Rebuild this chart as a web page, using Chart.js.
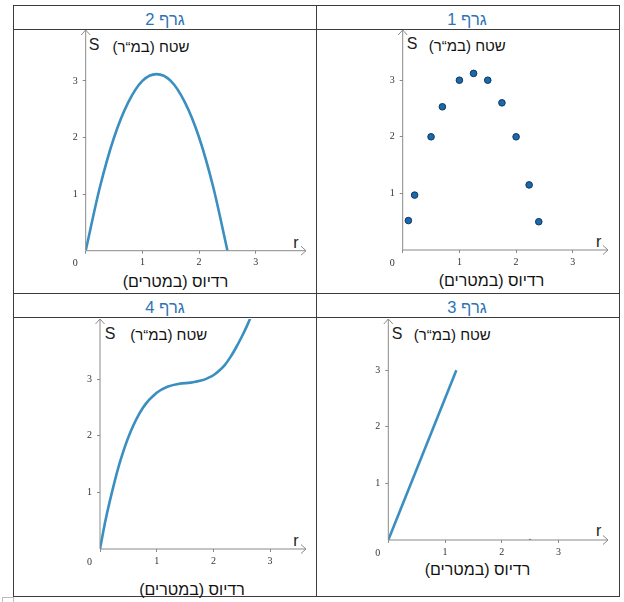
<!DOCTYPE html>
<html><head><meta charset="utf-8">
<script src="https://cdn.jsdelivr.net/npm/chart.js@4.4.0/dist/chart.umd.min.js"></script>
<style>
html,body{margin:0;padding:0;background:#fff;}
body{width:624px;height:602px;position:relative;overflow:hidden;font-family:"Liberation Sans",Arial,sans-serif;}
.ln{position:absolute;background:#3c3c3c;}
.t{position:absolute;white-space:nowrap;line-height:1;transform:translate(-50%,-50%);color:#111;}
.ttl{color:#2e74b5;font-size:16.5px;}
.s{font-size:16px;color:#222;}
.heb{font-size:15px;}
.xt{font-size:16px;}
.hnd{position:absolute;left:2px;top:597px;width:10px;height:8px;border:1px solid #bbb;}
canvas{position:absolute;}
</style></head><body>
<div id="root"></div>
<div class="hnd"></div>
<script>
// ---- data ----
const xTicks = [0, 1, 2, 3];
const yTicks = [1, 2, 3];
const titles = ["גרף 1", "גרף 2", "גרף 3", "גרף 4"];
const yLabel = "שטח (במ“ר)";
const xLabel = "רדיוס (במטרים)";

// graph 1: scattered points
const g1R = [0.1, 0.21, 0.5, 0.7, 1.0, 1.25, 1.5, 1.75, 2.0, 2.23, 2.4];
const g1S = [0.52, 0.97, 2.0, 2.53, 3.0, 3.12, 3.0, 2.6, 2.0, 1.15, 0.5];
// graph 2: parabola-like curve
const g2R = [0, 0.25, 0.5, 0.75, 1.0, 1.25, 1.5, 1.75, 2.0, 2.25, 2.5];
const g2S = [0, 1.12, 2.0, 2.62, 3.0, 3.12, 3.0, 2.62, 2.0, 1.12, 0];
// graph 3: straight segment plus a lone point
const g3R = [0, 1.2];
const g3S = [0, 3.0];
const g3DotR = [2.5];
const g3DotS = [0];
// graph 4: cubic-like curve
const g4R = [0, 0.1, 0.22, 0.35, 0.53, 0.76, 1.0, 1.2, 1.4, 1.6, 1.8, 1.9, 2.0, 2.1, 2.2, 2.3, 2.4, 2.5, 2.6, 2.7];
const g4S = [0, 0.52, 1.04, 1.53, 2.05, 2.5, 2.76, 2.87, 2.92, 2.94, 2.98, 3.02, 3.07, 3.15, 3.25, 3.39, 3.56, 3.75, 3.96, 4.2];

// ---- layout ----
const root = document.getElementById('root');
function line(x, y, w, h) {
  const d = document.createElement('div'); d.className = 'ln';
  d.style.left = x + 'px'; d.style.top = y + 'px'; d.style.width = w + 'px'; d.style.height = h + 'px';
  root.appendChild(d);
}
function text(str, cls, x, y, rtl) {
  const d = document.createElement('div'); d.className = 't ' + cls;
  d.textContent = str; d.style.left = x + 'px'; d.style.top = y + 'px';
  if (rtl) d.dir = 'rtl';
  root.appendChild(d);
}
// table grid
[5, 29, 293, 317, 595.5].forEach(y => line(13, y, 606.5, 1.3));
[13, 315.5, 618.5].forEach(x => line(x, 5, 1.3, 591.8));

const UX = 56.7, UY = 56.6;
const curveColor = '#3a8fc0';
const panels = [
  {title: titles[0], tx: 467, ty: 18.5, cl: 317, ct: 31, cw: 301, ch: 262, ox: 402.7, oy: 250, top: 30, right: 608,
   S: [412, 43.5], heb: [467.3, 44.5], r: [598.7, 241.5], xt: [491.5, 280.5],
   datasets: [{type: 'scatter', data: g1R.map((r, i) => ({x: r, y: g1S[i]})), pointRadius: 3.3,
     pointBackgroundColor: '#1b69a8', pointBorderColor: '#0c3762', pointBorderWidth: 1, showLine: false}]},
  {title: titles[1], tx: 165, ty: 18.5, cl: 14, ct: 31, cw: 301, ch: 262, ox: 85.7, oy: 250.7, top: 30, right: 306,
   S: [94, 45], heb: [151, 45.5], r: [296, 243], xt: [175.5, 282],
   datasets: [{type: 'line', data: g2R.map((r, i) => ({x: r, y: g2S[i]})), borderColor: curveColor, borderWidth: 2.6,
     pointRadius: 0, cubicInterpolationMode: 'monotone', fill: false}]},
  {title: titles[2], tx: 467, ty: 307, cl: 317, ct: 319, cw: 301, ch: 276, ox: 388.3, oy: 540, top: 319, right: 608,
   S: [397, 333.5], heb: [452.3, 334], r: [598.7, 530.5], xt: [477.5, 569.5],
   datasets: [{type: 'line', data: g3R.map((r, i) => ({x: r, y: g3S[i]})), borderColor: curveColor, borderWidth: 2.6,
     pointRadius: 0, fill: false},
     {type: 'scatter', data: g3DotR.map((r, i) => ({x: r, y: g3DotS[i]})), pointRadius: 1.3,
      pointBackgroundColor: curveColor, pointBorderWidth: 0}]},
  {title: titles[3], tx: 165, ty: 307, cl: 14, ct: 319, cw: 301, ch: 276, ox: 100, oy: 549, top: 319, right: 306,
   S: [110, 333.5], heb: [168.7, 334], r: [296, 540.5], xt: [192, 589.5],
   datasets: [{type: 'line', data: g4R.map((r, i) => ({x: r, y: g4S[i]})), borderColor: curveColor, borderWidth: 2.6,
     pointRadius: 0, cubicInterpolationMode: 'monotone', fill: false}]}
];

const axisPlugin = {
  id: 'axes',
  afterDraw(chart) {
    const {ctx, chartArea: a, scales: {x, y}} = chart;
    ctx.save();
    ctx.strokeStyle = '#8a8a8a'; ctx.lineWidth = 1;
    const ox = x.getPixelForValue(0), oy = y.getPixelForValue(0);
    ctx.beginPath();
    ctx.moveTo(ox, oy); ctx.lineTo(a.right, oy);
    ctx.moveTo(ox, oy); ctx.lineTo(ox, a.top);
    // arrow heads
    ctx.moveTo(a.right - 5, oy - 4.5); ctx.lineTo(a.right, oy); ctx.lineTo(a.right - 5, oy + 4.5);
    ctx.moveTo(ox - 4.5, a.top + 5); ctx.lineTo(ox, a.top); ctx.lineTo(ox + 4.5, a.top + 5);
    ctx.stroke();
    // origin label
    ctx.fillStyle = '#333';
    ctx.font = '10px "Liberation Serif", serif';
    ctx.textAlign = 'center'; ctx.textBaseline = 'middle';
    ctx.fillText(String(xTicks[0]), ox - 10.5, oy + 13);
    ctx.restore();
  }
};

panels.forEach(p => {
  text(p.title, 'ttl', p.tx, p.ty, true);
  text('S', 's', p.S[0], p.S[1]);
  text('r', 's', p.r[0], p.r[1]);
  text(yLabel, 'heb', p.heb[0], p.heb[1], true);
  text(xLabel, 'xt', p.xt[0], p.xt[1], true);

  const PADTOP = 20;
  const cv = document.createElement('canvas');
  const ctop = p.top - PADTOP;
  const cheight = p.ct + p.ch - ctop;
  cv.width = p.cw; cv.height = cheight;
  cv.style.left = p.cl + 'px'; cv.style.top = ctop + 'px';
  cv.style.width = p.cw + 'px'; cv.style.height = cheight + 'px';
  root.appendChild(cv);

  const leftW = p.ox - p.cl;
  const bottomH = (ctop + cheight) - p.oy;
  const padRight = (p.cl + p.cw) - p.right;
  const xMax = (p.right - p.ox) / UX;
  const yMax = (p.oy - p.top) / UY;
  const tickFont = {family: '"Liberation Serif", serif', size: 10};

  new Chart(cv, {
    data: {datasets: p.datasets},
    options: {
      responsive: false, animation: false, devicePixelRatio: 1,
      layout: {padding: {top: PADTOP, right: padRight, left: 0, bottom: 0}},
      plugins: {legend: {display: false}, tooltip: {enabled: false}},
      scales: {
        x: {type: 'linear', min: 0, max: xMax, border: {display: false},
          grid: {drawOnChartArea: false, drawTicks: true, tickLength: 3, color: '#8a8a8a'},
          afterBuildTicks: s => { s.ticks = xTicks.map(v => ({value: v})); },
          ticks: {includeBounds: false, stepSize: 1, padding: 3, color: '#333', font: tickFont,
            callback: v => (v === xTicks[0] ? '' : String(v))},
          afterFit: s => { s.height = bottomH; }},
        y: {type: 'linear', min: 0, max: yMax, border: {display: false},
          grid: {drawOnChartArea: false, drawTicks: true, tickLength: 3, color: '#8a8a8a'},
          afterBuildTicks: s => { s.ticks = yTicks.map(v => ({value: v})); },
          ticks: {includeBounds: false, stepSize: 1, padding: 5, color: '#333', font: tickFont},
          afterFit: s => { s.width = leftW; }}
      }
    },
    plugins: [axisPlugin]
  });
});
</script>
</body></html>
